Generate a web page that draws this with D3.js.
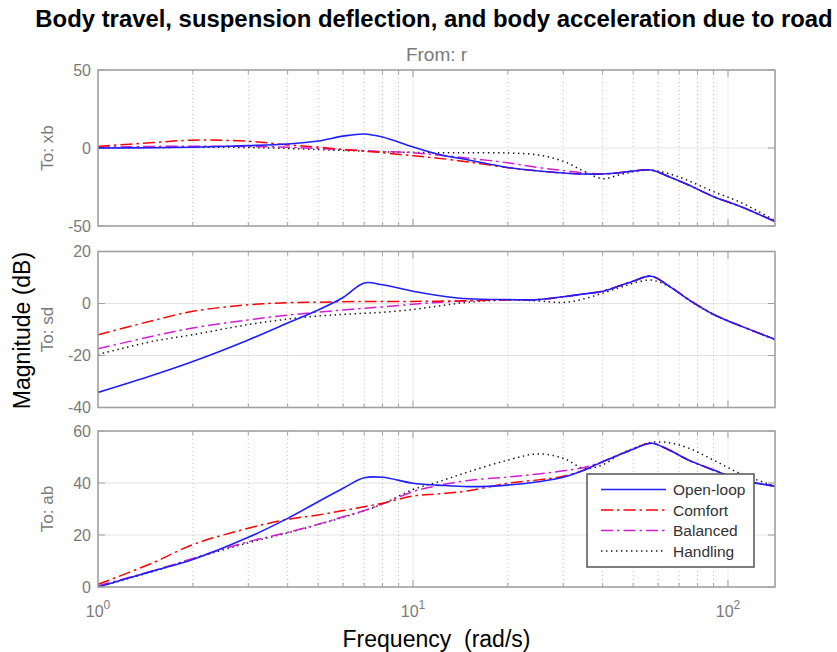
<!DOCTYPE html>
<html><head><meta charset="utf-8">
<script src="https://cdn.jsdelivr.net/npm/d3@7"></script>
<style>body{margin:0;background:#fff;} svg{display:block;font-family:"Liberation Sans",Arial,Helvetica,sans-serif;}</style>
</head><body><svg id="c" width="837" height="652"></svg>
<script>
// ---- data ----
const freq = [1, 1.5, 2, 3, 4, 5, 6, 7, 8, 10, 12, 15, 20, 25, 30, 35, 40, 45, 50, 57, 65, 75, 90, 110, 141];

const xbOpen     = [0, 0.2, 0.5, 1.5, 2.6, 4.5, 7.6, 9, 7, 0.7, -4, -7.7, -12.5, -14.7, -16, -16.7, -16.7, -15.9, -14.8, -14.1, -18.4, -23.7, -31.2, -37.6, -47.2];
const xbComfort  = [1, 3.5, 5, 4.3, 2, 0.5, -1, -2, -3, -5, -6.5, -9, -12.6, -14.8, -16, -16.7, -16.7, -15.9, -14.8, -14.1, -18.4, -23.7, -31.2, -37.6, -47.2];
const xbBalanced = [0.5, 1, 1.2, 1, 0.5, -0.3, -1, -1.7, -2.3, -3, -4.5, -6.5, -9.5, -12.5, -14.5, -16, -16.7, -15.9, -14.8, -14.1, -18.4, -23.7, -31.2, -37.6, -47.2];
const xbHandling = [0, 0.3, 0.5, 0.3, -0.3, -1, -1.6, -2, -2.5, -2.8, -3, -3.1, -3.2, -4.5, -8.5, -15, -19.7, -17.3, -15.3, -14.3, -16.5, -21, -28, -35, -46.5];

const sdOpen     = [-34.2, -27.5, -22.3, -14, -7.5, -2.5, 2.3, 7.9, 7.2, 4.7, 3.1, 1.8, 1.5, 1.5, 2.6, 3.7, 4.7, 6.7, 8.6, 10.5, 6.7, 1.5, -4.2, -8.7, -13.8];
const sdComfort  = [-12, -6.5, -3, -0.5, 0.3, 0.5, 0.7, 0.8, 0.8, 0.8, 0.9, 1.1, 1.4, 1.5, 2.6, 3.7, 4.7, 6.7, 8.6, 10.5, 6.7, 1.5, -4.2, -8.7, -13.8];
const sdBalanced = [-17.4, -12.5, -9.4, -6.3, -4.5, -3.3, -2.5, -1.8, -1.3, -0.3, 0.4, 1.0, 1.4, 1.5, 2.6, 3.7, 4.7, 6.7, 8.6, 10.5, 6.7, 1.5, -4.2, -8.7, -13.8];
const sdHandling = [-19.6, -14.5, -12, -8.1, -6, -4.8, -4.2, -3.8, -3.4, -2.3, -1.0, 0.5, 1.3, 1.0, 0.4, 1.8, 4, 6, 7.8, 9, 6.5, 1.3, -4.3, -8.7, -13.8];

const abOpen     = [0, 6.2, 10.6, 19.1, 26.4, 32.8, 38, 42, 42.2, 39.9, 39.2, 38.6, 39.2, 40.5, 42.2, 45, 48.2, 50.8, 53, 55.3, 52.7, 48.8, 45, 41.2, 38.8];
const abComfort  = [1, 9.4, 16.3, 22.6, 26, 27.7, 29.4, 30.9, 32.2, 35, 35.8, 37, 39.9, 41.2, 42.6, 45, 48.2, 50.8, 53, 55.3, 52.7, 48.8, 45, 41.2, 38.8];
const abBalanced = [0.5, 6.3, 11, 17.4, 21, 24.1, 27, 29.4, 31.9, 36.7, 39, 41, 42.3, 43.5, 44.7, 46, 48.2, 50.8, 53, 55.3, 52.7, 48.8, 45, 41.2, 38.8];
const abHandling = [0, 6, 10.8, 17, 20.8, 24, 26.8, 29.3, 31.9, 37.5, 40.4, 44.3, 48.8, 51.2, 49.5, 45.6, 47, 50.8, 53.3, 55.6, 55.5, 53.4, 48.8, 43.5, 38.8];

const seriesNames = ["Open-loop", "Comfort", "Balanced", "Handling"];
const outputNames = ["To: xb", "To: sd", "To: ab"];
const yTicksXb = [-50, 0, 50];
const yTicksSd = [-40, -20, 0, 20];
const yTicksAb = [0, 20, 40, 60];
const xTickExps = [0, 1, 2];
const titleText = "Body travel, suspension deflection, and body acceleration due to road";
const inputText = "From: r";
const yLabelText = "Magnitude (dB)";
const xLabelText = "Frequency  (rad/s)";

// ---- layout ----
const W = 837, H = 652;
const L = 98, R = 775, PH = 156;
const tops = [70, 251.5, 431];
const styles = [
  {color: "#1f1fff", dash: null, width: 1.6},
  {color: "#ff0000", dash: "12,4,2.5,4", width: 1.5},
  {color: "#d21ed2", dash: "12,4,2.5,4", width: 1.5},
  {color: "#111111", dash: "1.4,3.6", width: 1.5}
];
const panels = [
  {name: outputNames[0], domain: [-50, 50], ticks: yTicksXb, data: [xbOpen, xbComfort, xbBalanced, xbHandling]},
  {name: outputNames[1], domain: [-40, 20], ticks: yTicksSd, data: [sdOpen, sdComfort, sdBalanced, sdHandling]},
  {name: outputNames[2], domain: [0, 60],   ticks: yTicksAb, data: [abOpen, abComfort, abBalanced, abHandling]}
];

const svg = d3.select("#c");
svg.append("rect").attr("width", W).attr("height", H).attr("fill", "#fff");

const x = d3.scaleLog().domain([1, 141]).range([L, R]);
const minorF = [], majorF = [];
for (let e = 0; e <= 2; e++) {
  const b = Math.pow(10, e);
  if (e > 0) majorF.push(b);
  for (let m = 2; m <= 9; m++) if (m * b < 141) minorF.push(m * b);
}

const axisGrey = "#a0a0a0", textGrey = "#7a7a7a";

panels.forEach((p, i) => {
  const top = tops[i], bot = top + PH;
  const y = d3.scaleLinear().domain(p.domain).range([bot, top]);
  const g = svg.append("g");
  g.append("rect").attr("x", L).attr("y", top).attr("width", R - L).attr("height", PH).attr("fill", "#fff");
  // grid
  g.selectAll(".hg").data(p.ticks.filter(t => t !== p.domain[0] && t !== p.domain[1])).join("line")
    .attr("x1", L).attr("x2", R).attr("y1", d => y(d)).attr("y2", d => y(d))
    .attr("stroke", "#e4e4e4").attr("stroke-width", 1);
  g.selectAll(".mg").data(majorF).join("line")
    .attr("x1", d => x(d)).attr("x2", d => x(d)).attr("y1", top).attr("y2", bot)
    .attr("stroke", "#ebebeb").attr("stroke-width", 1);
  g.selectAll(".ng").data(minorF).join("line")
    .attr("x1", d => x(d)).attr("x2", d => x(d)).attr("y1", top).attr("y2", bot)
    .attr("stroke", "#c4c4c4").attr("stroke-width", 1).attr("stroke-dasharray", "1,3");
  // ticks
  const tk = g.append("g").attr("stroke", axisGrey).attr("stroke-width", 1);
  minorF.forEach(f => {
    tk.append("line").attr("x1", x(f)).attr("x2", x(f)).attr("y1", top).attr("y2", top + 4);
    tk.append("line").attr("x1", x(f)).attr("x2", x(f)).attr("y1", bot).attr("y2", bot - 4);
  });
  majorF.forEach(f => {
    tk.append("line").attr("x1", x(f)).attr("x2", x(f)).attr("y1", top).attr("y2", top + 7);
    tk.append("line").attr("x1", x(f)).attr("x2", x(f)).attr("y1", bot).attr("y2", bot - 7);
  });
  p.ticks.forEach(t => {
    tk.append("line").attr("x1", L).attr("x2", L + 7).attr("y1", y(t)).attr("y2", y(t));
    tk.append("line").attr("x1", R).attr("x2", R - 7).attr("y1", y(t)).attr("y2", y(t));
  });
  // curves
  const clipId = "clip" + i;
  svg.append("clipPath").attr("id", clipId).append("rect").attr("x", L).attr("y", top).attr("width", R - L).attr("height", PH);
  const line = d3.line().x((d, k) => x(freq[k])).y(d => y(d)).curve(d3.curveCatmullRom.alpha(0.5));
  const lg = g.append("g").attr("clip-path", `url(#${clipId})`);
  [3, 2, 1, 0].forEach(s => {
    lg.append("path").attr("d", line(p.data[s])).attr("fill", "none")
      .attr("stroke", styles[s].color).attr("stroke-width", styles[s].width)
      .attr("stroke-dasharray", styles[s].dash).attr("stroke-linejoin", "round");
  });
  // box
  g.append("rect").attr("x", L).attr("y", top).attr("width", R - L).attr("height", PH)
    .attr("fill", "none").attr("stroke", axisGrey).attr("stroke-width", 1.6);
  // y tick labels
  g.selectAll(".yl").data(p.ticks).join("text")
    .attr("x", L - 7).attr("y", d => y(d)).attr("dy", "0.36em").attr("text-anchor", "end")
    .attr("font-size", 16).attr("fill", textGrey).text(d => d);
  // output label
  g.append("text").attr("transform", `translate(53,${top + PH / 2}) rotate(-90)`)
    .attr("text-anchor", "middle").attr("font-size", 17).attr("fill", textGrey).text(p.name);
});

// x tick labels
const bot3 = tops[2] + PH;
xTickExps.forEach(e => {
  const t = svg.append("text").attr("x", x(Math.pow(10, e))).attr("y", bot3 + 30)
    .attr("text-anchor", "middle").attr("font-size", 16).attr("fill", textGrey);
  t.append("tspan").text("10");
  t.append("tspan").attr("dy", -8).attr("font-size", 12).text(String(e));
});

// titles
const title = svg.append("text").attr("x", 434).attr("y", 27).attr("text-anchor", "middle")
  .attr("font-weight", "bold").attr("font-size", 20).attr("fill", "#000").text(titleText);
const tl = title.node().getComputedTextLength();
title.attr("font-size", 20 * 798 / tl);
svg.append("text").attr("x", (L + R) / 2).attr("y", 61).attr("text-anchor", "middle")
  .attr("font-size", 19).attr("fill", textGrey).text(inputText);
svg.append("text").attr("transform", `translate(30,${(tops[0] + bot3) / 2 + 2}) rotate(-90)`)
  .attr("text-anchor", "middle").attr("font-size", 23).attr("fill", "#000").text(yLabelText);
svg.append("text").attr("x", (L + R) / 2).attr("y", 647).attr("text-anchor", "middle")
  .attr("font-size", 23).attr("fill", "#000").attr("xml:space", "preserve").style("white-space", "pre").text(xLabelText);

// legend
const lgX = 587, lgY = 474, lgW = 167, lgH = 93;
const leg = svg.append("g");
leg.append("rect").attr("x", lgX).attr("y", lgY).attr("width", lgW).attr("height", lgH)
  .attr("fill", "#fff").attr("stroke", "#555").attr("stroke-width", 1.5);
seriesNames.forEach((n, s) => {
  const yy = 489.5 + s * 20.5;
  leg.append("line").attr("x1", 601).attr("x2", 666).attr("y1", yy).attr("y2", yy)
    .attr("stroke", styles[s].color).attr("stroke-width", styles[s].width).attr("stroke-dasharray", styles[s].dash);
  leg.append("text").attr("x", 673).attr("y", yy).attr("dy", "0.36em").attr("font-size", 15.5)
    .attr("fill", "#333").text(n);
});
</script></body></html>
